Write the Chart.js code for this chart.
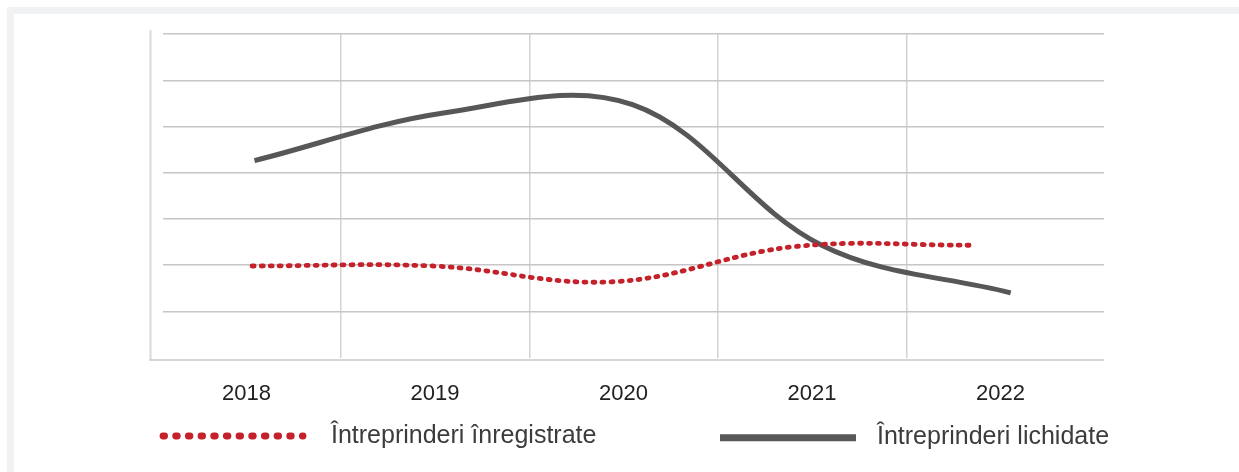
<!DOCTYPE html>
<html lang="ro">
<head>
<meta charset="utf-8">
<title>Întreprinderi înregistrate și lichidate</title>
<script src="https://cdn.jsdelivr.net/npm/chart.js@4.4.1/dist/chart.umd.min.js"></script>
<style>
  html, body { margin: 0; padding: 0; background: #fff; width: 1239px; height: 472px; overflow: hidden; }
  #frame { position: absolute; left: 7px; top: 7px; right: -20px; bottom: -20px;
           border-top: 7px solid #f1f2f4; border-left: 7px solid #f1f2f4; }
  #chart { position: absolute; left: 0; top: 0; }
  .legend-item { position: absolute; height: 30px; }
  .legend-item svg { position: absolute; top: 0; left: 0; overflow: visible; }
  .legend-item span { position: absolute; top: 0; white-space: nowrap;
                      font-family: "Liberation Sans", Arial, sans-serif; font-size: 25px;
                      line-height: 24px; color: #3c3c3c; }
</style>
</head>
<body>
<div id="frame"></div>
<canvas id="chart" width="1239" height="472"></canvas>
<div id="legend"></div>
<script>
// Years on the horizontal axis
const years = [2018, 2019, 2020, 2021, 2022];
// Registered enterprises (relative index, dotted red line)
const registered = [1.98, 1.98, 1.64, 2.40, 2.43];
// Liquidated enterprises (relative index, solid grey line)
const liquidated = [4.26, 5.29, 5.47, 2.43, 1.40];
// Series names shown in the legend
const seriesNames = ['Întreprinderi înregistrate', 'Întreprinderi lichidate'];
// Value-axis gridline levels
const levels = [0, 1, 2, 3, 4, 5, 6, 7];

const RED = '#c4212b';
const GREY = '#575757';

const LABEL_BAND = 80;
const fixHeight = h => s => { s.height = h; };
const noWidth = s => { s.width = 0; };

// Axis lines drawn slightly outside the plotting area
const axisLines = {
  id: 'axisLines',
  beforeDatasetsDraw(chart) {
    const { ctx, chartArea: a } = chart;
    ctx.save();
    ctx.strokeStyle = '#d9d9d9';
    ctx.lineWidth = 2;
    ctx.beginPath();
    ctx.moveTo(a.left - 12.5, a.top - 4);
    ctx.lineTo(a.left - 12.5, a.bottom + 3);
    ctx.stroke();
    ctx.strokeStyle = '#c8c8c8';
    ctx.lineWidth = 1.5;
    ctx.beginPath();
    ctx.moveTo(a.left - 13.5, a.bottom + 2.5);
    ctx.lineTo(a.right, a.bottom + 2.5);
    ctx.stroke();
    ctx.restore();
  }
};

const toPoints = vals => years.map((y, i) => ({ x: y, y: vals[i] }));

const chart = new Chart(document.getElementById('chart'), {
  type: 'line',
  data: {
    datasets: [
      {
        label: seriesNames[0],
        data: toPoints(registered),
        xAxisID: 'xr',
        borderColor: RED,
        borderWidth: 4.8,
        borderDash: [2, 7],
        borderCapStyle: 'round',
        borderJoinStyle: 'round',
        tension: 0.38,
        pointRadius: 0,
        fill: false
      },
      {
        label: seriesNames[1],
        data: toPoints(liquidated),
        xAxisID: 'xg',
        borderColor: GREY,
        borderWidth: 5,
        borderCapStyle: 'butt',
        borderJoinStyle: 'round',
        tension: 0.36,
        pointRadius: 0,
        fill: false
      }
    ]
  },
  options: {
    responsive: false,
    animation: false,
    events: [],
    layout: { padding: { left: 163, top: 34, right: 135, bottom: 114.5 - LABEL_BAND } },
    plugins: { legend: { display: false }, tooltip: { enabled: false } },
    scales: {
      x: {
        type: 'linear',
        position: 'bottom',
        min: 2017.557, max: 2022.549,
        afterBuildTicks: s => { s.ticks = years.map(v => ({ value: v })); },
        afterFit: fixHeight(LABEL_BAND),
        grid: { display: false },
        border: { display: false },
        ticks: {
          callback: v => String(v),
          autoSkip: false, maxRotation: 0,
          padding: 15,
          color: '#222',
          font: { family: '"Liberation Sans", Arial, sans-serif', size: 22 }
        }
      },
      xgrid: {
        type: 'linear',
        position: 'bottom',
        min: 2017.557, max: 2022.549,
        afterBuildTicks: s => { s.ticks = years.slice(0, -1).map(v => ({ value: v + 0.5 })); },
        afterFit: fixHeight(0),
        grid: { color: '#d3d3d3', lineWidth: 1.5, drawTicks: false },
        border: { display: false },
        ticks: { display: false }
      },
      xg: { type: 'linear', display: false, min: 2017.516, max: 2022.4935 },
      xr: { type: 'linear', display: false, min: 2017.508, max: 2022.707 },
      y: {
        type: 'linear',
        min: levels[0], max: levels[levels.length - 1],
        afterBuildTicks: s => { s.ticks = levels.map(v => ({ value: v })); },
        afterFit: noWidth,
        grid: {
          color: c => (c.tick && c.tick.value === 0) ? 'rgba(0,0,0,0)' : '#c6c6c6',
          lineWidth: 1.4,
          drawTicks: false
        },
        border: { display: false },
        ticks: { display: false }
      }
    }
  },
  plugins: [axisLines]
});

// Legend built from the dataset styles
const legendSpots = [
  { left: 159, top: 422, sample: 148, textLeft: 172, y: 14 },
  { left: 720, top: 423, sample: 136, textLeft: 157, y: 14.7 }
];
const legend = document.getElementById('legend');
chart.data.datasets.forEach((ds, i) => {
  const spot = legendSpots[i];
  const item = document.createElement('div');
  item.className = 'legend-item';
  item.style.left = spot.left + 'px';
  item.style.top = spot.top + 'px';
  const dashed = ds.borderDash && ds.borderDash.length;
  const sw = dashed ? 6.8 : 7;
  const x1 = dashed ? 4 : 0;
  const x2 = dashed ? spot.sample - 4 : spot.sample;
  item.innerHTML =
    '<svg width="' + spot.sample + '" height="30">' +
    '<line x1="' + x1 + '" y1="' + spot.y + '" x2="' + x2 + '" y2="' + spot.y + '" stroke="' + ds.borderColor +
    '" stroke-width="' + sw + '" stroke-linecap="' + (dashed ? 'round' : 'butt') + '"' +
    (dashed ? ' stroke-dasharray="1.6 11.07"' : '') + '/></svg>';
  const span = document.createElement('span');
  span.style.left = spot.textLeft + 'px';
  span.textContent = ds.label;
  item.appendChild(span);
  legend.appendChild(item);
});
</script>
</body>
</html>
